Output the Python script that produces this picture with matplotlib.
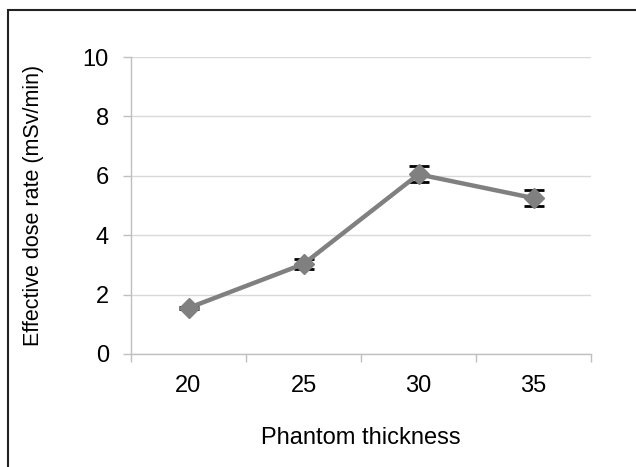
import matplotlib
matplotlib.use("Agg")
import matplotlib.pyplot as plt
from matplotlib.patches import Rectangle

categories = ["20", "25", "30", "35"]
dose_rate = [1.55, 3.03, 6.05, 5.25]
dose_err = [0.03, 0.18, 0.27, 0.28]
y_ticks = [0, 2, 4, 6, 8, 10]

plt.rcParams['font.family'] = ['Liberation Sans', 'DejaVu Sans']

fig = plt.figure(figsize=(6.36, 4.67), dpi=100)
ax = fig.add_axes([131/636, 1 - 354/467, (591-131)/636, (354-57)/467])

x = list(range(len(categories)))
ax.errorbar(x, dose_rate, yerr=dose_err, color='#808080', lw=3.2,
            marker='D', markersize=10, markerfacecolor='#808080', markeredgecolor='#808080',
            ecolor='black', elinewidth=1.3, capsize=7, capthick=2, zorder=3)

ax.set_xlim(-0.5, len(categories) - 0.5)
ax.set_ylim(0, 10)
ax.set_yticks(y_ticks)
ax.set_yticklabels([str(v) for v in y_ticks], fontsize=17)
ax.set_xticks([i - 0.5 for i in range(len(categories) + 1)])
ax.set_xticklabels([])
ax.set_xticks(x, minor=True)
ax.set_xticklabels(categories, minor=True, fontsize=17)
ax.tick_params(axis='x', which='minor', length=0, pad=15)
ax.tick_params(axis='x', which='major', length=6, color='#bfbfbf', width=1)
ax.tick_params(axis='y', length=6, color='#bfbfbf', width=1, pad=10)

ax.grid(axis='y', color='#d9d9d9', lw=1)
ax.set_axisbelow(True)
for s in ['top', 'right']:
    ax.spines[s].set_visible(False)
for s in ['left', 'bottom']:
    ax.spines[s].set_color('#bfbfbf')
    ax.spines[s].set_linewidth(1)

ax.set_xlabel("Phantom thickness", fontsize=17, labelpad=22)
ax.set_ylabel("Effective dose rate (mSv/min)", fontsize=15.5, labelpad=28)

fig.patches.append(Rectangle((8/636, -0.1), 1.2, 1 - 10/467 + 0.1, transform=fig.transFigure,
                             fill=False, edgecolor='#222222', lw=1.5))

fig.savefig("out.png", dpi=100)
